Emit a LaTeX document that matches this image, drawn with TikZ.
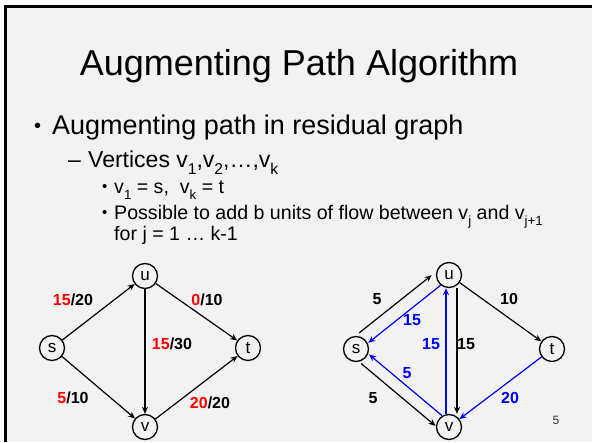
\documentclass[tikz,border=0pt]{standalone}
\usepackage{fontspec}
\usepackage{graphicx}
\setmainfont{Liberation Sans}
\usetikzlibrary{arrows.meta, positioning, calc}
\definecolor{SlideGray}{HTML}{F2F2F2}
\definecolor{FlowRed}{HTML}{FF0000}
\definecolor{ResBlue}{HTML}{0000FF}
\definecolor{PageGray}{HTML}{333333}
\newcommand{\vsub}[1]{\raisebox{-0.32em}{\scalebox{0.68}{#1}}}

\begin{document}
\begin{tikzpicture}[x=1pt, y=-1pt,
   vert/.style={circle, draw, line width=1.3pt, minimum size=25pt, inner sep=0pt,
      font=\fontsize{17}{17}\selectfont},
   arc/.style={-{Stealth[length=7pt, width=6pt]}, line width=1.2pt},
   lbl/.style={font=\fontsize{16}{16}\selectfont\bfseries, inner sep=0pt},
   txt/.style={anchor=base west, inner sep=0pt}]
            \useasboundingbox (0,0) rectangle (592,442);
            % Slide background and frame
            \fill[white] (0,0) rectangle (592,442);
            \fill[SlideGray] (4,5) rectangle (592,442);
            \fill[black] (4,5) rectangle (7,442);
            \fill[black] (4,5) rectangle (592,8);
            % Title
            \node[anchor=base, inner sep=0pt, font=\fontsize{36}{40}\selectfont] (title) at (299,75)
               {Augmenting Path Algorithm};
            % Bullets
            \node[txt, font=\fontsize{20}{24}\selectfont] (dotA) at (34,132) {\textbullet};
            \node[txt, font=\fontsize{27}{30}\selectfont] (lineA) at (52,134)
               {Augmenting path in residual graph};
            \node[txt, font=\fontsize{23}{27}\selectfont] (dashB) at (68,167) {--};
            \node[txt, font=\fontsize{23}{27}\selectfont] (lineB) at (88,167)
               {Vertices v\vsub{1},v\vsub{2},\dots,v\vsub{k}};
            \node[txt, font=\fontsize{15}{18}\selectfont] (dotC) at (102,191) {\textbullet};
            \node[txt, font=\fontsize{19.6}{22}\selectfont] (lineC) at (114,193)
               {v\vsub{1} = s,\ \ v\vsub{k} = t};
            \node[txt, font=\fontsize{15}{18}\selectfont] (dotD) at (102,217) {\textbullet};
            \node[txt, font=\fontsize{19.6}{22}\selectfont] (lineD) at (114,219)
               {Possible to add b units of flow between v\vsub{j} and v\vsub{j+1}};
            \node[txt, font=\fontsize{19.6}{22}\selectfont] (lineE) at (114,240)
               {for j = 1 \dots\ k-1};
            % Flow graph (left)
            \node[vert] (fs) at (52,348) {s};
            \node[vert] (fu) at (145,276) {u};
            \node[vert] (ft) at (248,348) {t};
            \node[vert] (fv) at (145,427) {v};
            \draw[arc] (fs) -- (fu);
            \draw[arc] (fs) -- (fv);
            \draw[arc] (fu) -- (fv);
            \draw[arc] (fu) -- (ft);
            \draw[arc] (fv) -- (ft);
            \node[lbl] (fsu) at (73,300) {\textcolor{FlowRed}{15}/20};
            \node[lbl] (fut) at (207,300) {\textcolor{FlowRed}{0}/10};
            \node[lbl] (fuv) at (172,344) {\textcolor{FlowRed}{15}/30};
            \node[lbl] (fsv) at (73,398) {\textcolor{FlowRed}{5}/10};
            \node[lbl] (fvt) at (210,403) {\textcolor{FlowRed}{20}/20};
            % Residual graph (right)
            \node[vert] (rs) at (356,349) {s};
            \node[vert] (ru) at (449,275) {u};
            \node[vert] (rt) at (552,349) {t};
            \node[vert] (rv) at (449,427) {v};
            \draw[arc, transform canvas={shift={(-7,-8)}}] (rs) -- (ru);
            \draw[arc, ResBlue, transform canvas={shift={(2,2)}}] (ru) -- (rs);
            \draw[arc, shorten >=-2pt, transform canvas={shift={(-5,6)}}] (rs) -- (rv);
            \draw[arc, ResBlue, transform canvas={shift={(3,-3)}}] (rv) -- (rs);
            \draw[arc, transform canvas={shift={(8,0)}}] (ru) -- (rv);
            \draw[arc, ResBlue, transform canvas={shift={(-3,0)}}] (rv) -- (ru);
            \draw[arc] (ru) -- (rt);
            \draw[arc, ResBlue] (rt) -- (rv);
            \node[lbl] (rsu) at (377,299) {5};
            \node[lbl] (rut) at (509,299) {10};
            \node[lbl, ResBlue] (rus) at (412,320) {15};
            \node[lbl, ResBlue] (rvu) at (431,344) {15};
            \node[lbl] (ruv) at (466,344) {15};
            \node[lbl, ResBlue] (rvs) at (407,373) {5};
            \node[lbl] (rsv) at (373,398) {5};
            \node[lbl, ResBlue] (rtv) at (510,398) {20};
            % Slide number
            \node[font=\fontsize{12}{12}\selectfont, text=PageGray] (pagenum) at (556,420) {5};
\end{tikzpicture}
\end{document}
